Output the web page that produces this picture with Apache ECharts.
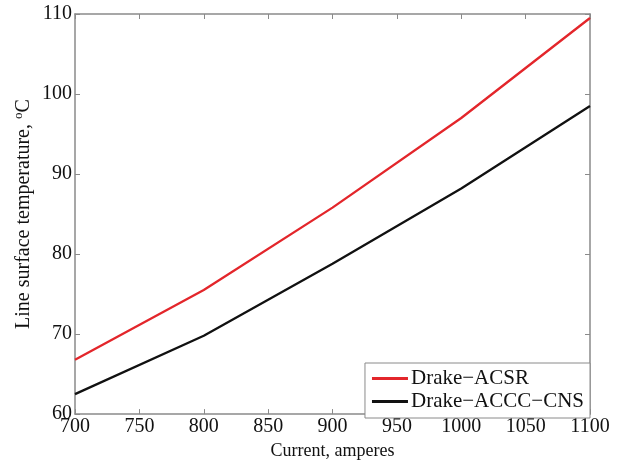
<!DOCTYPE html>
<html>
<head>
<meta charset="utf-8">
<script src="https://cdn.jsdelivr.net/npm/echarts@6/dist/echarts.min.js"></script>
<style>
html, body { margin: 0; padding: 0; background: #fff; }
#chart { width: 618px; height: 465px; }
</style>
</head>
<body>
<div id="chart"></div>
<script>
var currents = [700, 800, 900, 1000, 1100];
var acsrTemps = [66.8, 75.5, 85.8, 97.0, 109.5];
var acccTemps = [62.5, 69.8, 78.8, 88.2, 98.5];
var seriesNames = ["Drake\u2212ACSR", "Drake\u2212ACCC\u2212CNS"];

function pairs(xs, ys) {
    return xs.map(function (x, i) { return [x, ys[i]]; });
}

var font = "Liberation Serif";
var axisColor = "#8a8a8a";
var plain = function (v) { return String(v); };

var chart = echarts.init(document.getElementById("chart"));
chart.setOption({
    animation: false,
    backgroundColor: "#fff",
    textStyle: { fontFamily: font },
    grid: { left: 75, right: 28, top: 14, bottom: 47, containLabel: false },
    legend: {
        right: 28,
        bottom: 47,
        orient: "vertical",
        data: seriesNames,
        icon: "rect",
        itemWidth: 36,
        itemHeight: 3,
        itemGap: 2,
        padding: [5, 6, 6, 7],
        borderColor: axisColor,
        borderWidth: 1,
        borderRadius: 0,
        backgroundColor: "#fff",
        textStyle: { fontFamily: font, fontSize: 21, color: "#111", padding: [0, 0, 0, -2] }
    },
    xAxis: [{
        type: "value",
        min: 700, max: 1100, interval: 50,
        name: "Current, amperes",
        nameLocation: "middle",
        nameGap: 22,
        nameTextStyle: { fontFamily: font, fontSize: 18, color: "#111" },
        axisLine: { lineStyle: { color: axisColor, width: 1.5 } },
        axisTick: { inside: true, length: 5, lineStyle: { color: axisColor } },
        axisLabel: { fontFamily: font, fontSize: 20, color: "#111", margin: 3, formatter: plain },
        splitLine: { show: false }
    }, {
        type: "value",
        position: "top",
        min: 700, max: 1100, interval: 50,
        axisLine: { show: true, lineStyle: { color: axisColor, width: 1.5 } },
        axisTick: { show: true, inside: true, length: 5, lineStyle: { color: axisColor } },
        axisLabel: { show: false },
        splitLine: { show: false }
    }],
    yAxis: [{
        type: "value",
        min: 60, max: 110, interval: 10,
        name: "Line surface temperature, {sup|o}C",
        nameLocation: "middle",
        nameGap: 40,
        nameMoveOverlap: false,
        nameRotate: 90,
        nameTextStyle: {
            fontFamily: font, fontSize: 20, color: "#111",
            rich: { sup: { fontFamily: font, fontSize: 13, color: "#111", verticalAlign: "top", padding: [0, 0, 10, 0] } }
        },
        axisLine: { show: true, lineStyle: { color: axisColor, width: 1.5 } },
        axisTick: { show: true, inside: true, length: 5, lineStyle: { color: axisColor } },
        axisLabel: { fontFamily: font, fontSize: 20, color: "#111", margin: 3, formatter: plain },
        splitLine: { show: false }
    }, {
        type: "value",
        position: "right",
        min: 60, max: 110, interval: 10,
        axisLine: { show: true, lineStyle: { color: axisColor, width: 1.5 } },
        axisTick: { show: true, inside: true, length: 5, lineStyle: { color: axisColor } },
        axisLabel: { show: false },
        splitLine: { show: false }
    }],
    series: [{
        name: seriesNames[0],
        type: "line",
        data: pairs(currents, acsrTemps),
        symbol: "none",
        lineStyle: { color: "#e3262b", width: 2.3 },
        itemStyle: { color: "#e3262b" }
    }, {
        name: seriesNames[1],
        type: "line",
        data: pairs(currents, acccTemps),
        symbol: "none",
        lineStyle: { color: "#111", width: 2.3 },
        itemStyle: { color: "#111" }
    }]
});
</script>
</body>
</html>
